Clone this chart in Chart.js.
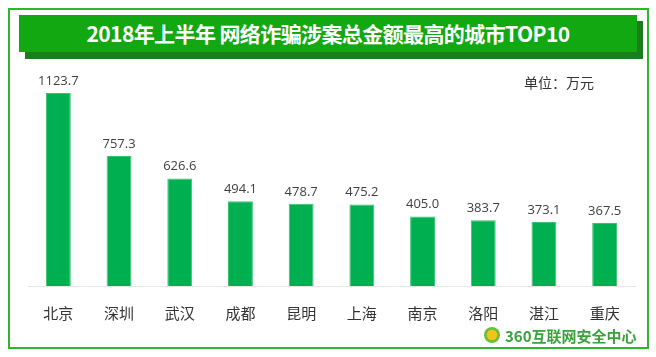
<!DOCTYPE html>
<html><head><meta charset="utf-8">
<script src="https://cdn.jsdelivr.net/npm/chart.js@4/dist/chart.umd.min.js"></script>
<style>
html,body{margin:0;padding:0;background:#fff;}
#wrap{position:relative;width:656px;height:357px;overflow:hidden;font-family:"Noto Sans CJK SC","Noto Sans",sans-serif;}
#border{position:absolute;left:8px;top:8px;width:637px;height:337px;border:2px solid #2fb52f;}
#shadow{position:absolute;left:25px;top:21px;width:618px;height:38px;background:#1b7d1b;}
#banner{position:absolute;left:19px;top:15px;width:618px;height:37px;background:#12a812;color:#fff;font-weight:bold;font-size:21px;line-height:37px;text-align:center;letter-spacing:-0.6px;}
#unit{position:absolute;left:524px;top:72px;font-size:14px;color:#333;}
#logo{position:absolute;left:484px;top:325px;height:20px;display:flex;align-items:center;color:#3aa23a;font-weight:bold;font-size:15px;letter-spacing:0px;}
#logo .ic{width:16px;height:16px;border-radius:50%;background:radial-gradient(circle,#f0c419 0 45%,#6cbf3a 46% 100%);margin-right:5px;}
#c{position:absolute;left:0;top:0;}
</style></head>
<body><div id="wrap">
<canvas id="c" width="656" height="357"></canvas>
<div id="border"></div>
<div id="shadow"></div>
<div id="banner">2018年上半年 网络诈骗涉案总金额最高的城市TOP10</div>
<div id="unit">单位：万元</div>
<div id="logo"><span class="ic"></span>360互联网安全中心</div>
</div>
<script>
const categories = ["北京","深圳","武汉","成都","昆明","上海","南京","洛阳","湛江","重庆"];
const amounts = [1123.7, 757.3, 626.6, 494.1, 478.7, 475.2, 405.0, 383.7, 373.1, 367.5];

const valueLabels = {
  id: 'valueLabels',
  afterDatasetsDraw(chart) {
    const ctx = chart.ctx;
    const meta = chart.getDatasetMeta(0);
    ctx.save();
    ctx.font = '13px "Open Sans", "Noto Sans", sans-serif';
    ctx.fillStyle = '#404040';
    ctx.textAlign = 'center';
    ctx.textBaseline = 'middle';
    meta.data.forEach((bar, i) => {
      ctx.fillText(amounts[i].toFixed(1), bar.x, bar.y - 12);
    });
    ctx.restore();
  }
};

new Chart(document.getElementById('c'), {
  type: 'bar',
  data: {
    labels: categories,
    datasets: [{
      data: amounts,
      backgroundColor: '#00b050',
      borderColor: '#3ac46e',
      borderWidth: 1,
      barPercentage: 0.41,
      categoryPercentage: 1.0
    }]
  },
  options: {
    responsive: false,
    devicePixelRatio: 1,
    animation: false,
    layout: { padding: { left: 28, right: 21, top: 80, bottom: 0 } },
    plugins: { legend: { display: false }, tooltip: { enabled: false } },
    scales: {
      y: { display: false, min: 0, max: 1200 },
      x: {
        grid: { display: false, drawTicks: false },
        border: { display: true, color: '#e6e6e6', width: 1 },
        ticks: { color: '#333', font: { size: 15, family: '"Noto Sans CJK SC", sans-serif' }, padding: 18 },
        afterFit(s) { s.height = 71; }
      }
    }
  },
  plugins: [valueLabels]
});
</script>
</body></html>
